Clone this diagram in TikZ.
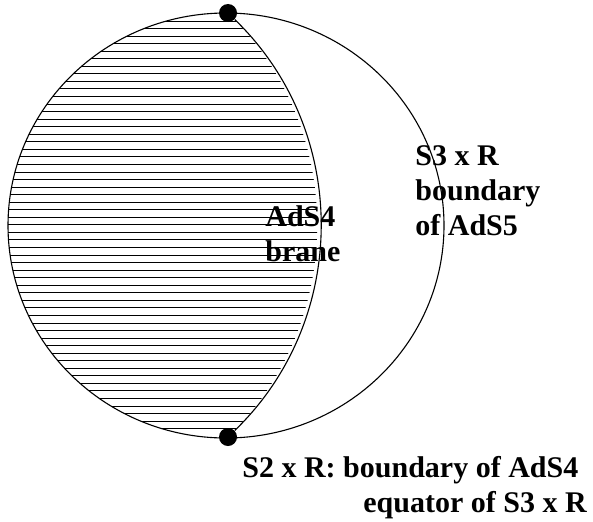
\documentclass[tikz,border=0pt]{standalone}
\usepackage{fontspec}
\setmainfont{Liberation Serif}
\usetikzlibrary{positioning}

\begin{document}
\begin{tikzpicture}[
    x=0.5pt, y=0.5pt,
    rim/.style={draw=black, line width=0.55pt},
    hatch/.style={draw=black, line width=0.5pt},
    pole/.style={circle, fill=black, inner sep=0pt, minimum size=9pt},
    lbl/.style={font=\fontsize{15}{17.5}\selectfont\bfseries, inner sep=0pt, align=left},
]
\useasboundingbox (0,0) rectangle (593,521);

% the two poles where the brane hits the boundary
\node[pole] (top) at (228,508) {};
\node[pole] (bot) at (228,84) {};

% hatched AdS4 brane
\begin{scope}
  \clip (226,295.5) ellipse [x radius=109pt, y radius=106.25pt];
  \clip (top.center) to[bend left=46] (bot.center) -- (0,0) -- (0,521) -- cycle;
  \foreach \k in {0,...,54}
    \draw[hatch] (0,{500-7.55*\k}) -- (330,{500-7.55*\k});
\end{scope}

% boundary of AdS5 and the brane
\draw[rim] (226,295.5) ellipse [x radius=109pt, y radius=106.25pt];
\draw[rim] (top) to[bend left=46] (bot);

\node[lbl, anchor=north west] (brane) at (265,316) {AdS4\\brane};
\node[lbl, anchor=north west] (bdy) at (415,376) {S3 x R\\boundary\\of AdS5};
\node[lbl, anchor=base west] (eqA) at (242,44) {S2 x R: boundary of AdS4};
\node[lbl, anchor=base west] (eqB) at (363,9) {equator of S3 x R};
\end{tikzpicture}
\end{document}
